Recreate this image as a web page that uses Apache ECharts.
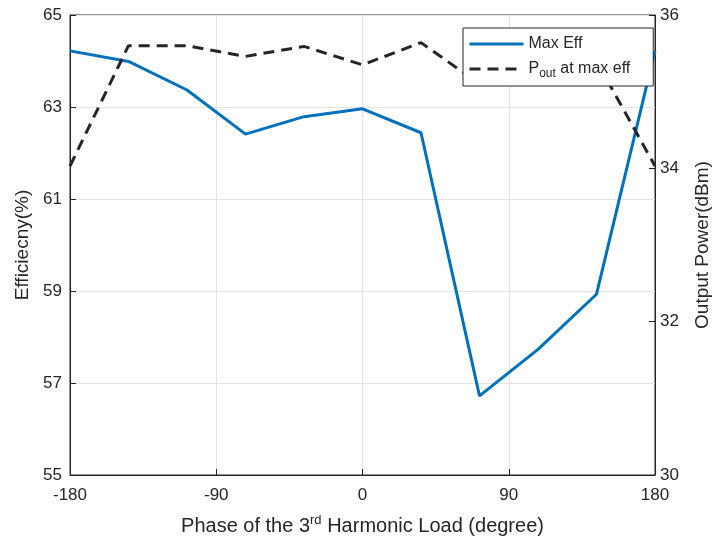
<!DOCTYPE html>
<html>
<head>
<meta charset="utf-8">
<style>
  html, body { margin: 0; padding: 0; background: #fff; }
  #chart { width: 712px; height: 542px; }
</style>
<script src="https://cdn.jsdelivr.net/npm/echarts@6/dist/echarts.min.js"></script>
</head>
<body>
<div id="chart"></div>
<script>
// Phase of the 3rd harmonic load (degrees)
const phases = [-180, -144, -108, -72, -36, 0, 36, 72, 108, 144, 180];
// Maximum drain efficiency (%) at each phase
const maxEff = [64.22, 63.99, 63.37, 62.41, 62.79, 62.96, 62.44, 56.72, 57.73, 58.93, 64.22];
// Output power (dBm) at the max-efficiency point
const poutAtMaxEff = [34.03, 35.60, 35.60, 35.46, 35.59, 35.35, 35.64, 35.10, 35.22, 35.40, 34.03];

// Axis ranges / ticks
const xTicks = [-180, -90, 0, 90, 180];
const effTicks = [55, 57, 59, 61, 63, 65];
const powTicks = [30, 32, 34, 36];

const FONT = '"Liberation Sans", Arial, Helvetica, sans-serif';
const INK = '#262626';
const GRIDC = '#e3e3e3';

const chart = echarts.init(document.getElementById('chart'), null, { renderer: 'canvas' });

const pair = (xs, ys) => xs.map((x, i) => [x, ys[i]]);

chart.setOption({
  backgroundColor: '#ffffff',
  animation: false,
  textStyle: { fontFamily: FONT },
  grid: {
    left: 70, right: 57, top: 15, bottom: 67,
    outerBoundsMode: 'none',
    containLabel: false,
    show: true, borderColor: INK, borderWidth: 1, backgroundColor: 'transparent'
  },
  legend: {
    left: 463, top: 28,
    orient: 'vertical',
    selectedMode: false,
    backgroundColor: '#ffffff',
    borderColor: INK,
    borderWidth: 1,
    borderRadius: 0,
    padding: [8, 23, 6, 5],
    itemWidth: 54,
    itemHeight: 14,
    itemGap: 9,
    itemTextGap: 5,
    z: 10,
    itemStyle: { opacity: 0 },
    lineStyle: { width: 3 },
    textStyle: {
      fontFamily: FONT, fontSize: 16, color: INK,
      rich: {
        n: { fontFamily: FONT, fontSize: 16, color: INK },
        s: { fontFamily: FONT, fontSize: 12, color: INK, verticalAlign: 'bottom', padding: [10, 0, 0, 0] }
      }
    },
    formatter: name => name === 'Pout at max eff' ? '{n|P}{s|out}{n| at max eff}' : name,
    data: ['Max Eff', 'Pout at max eff']
  },
  xAxis: {
    type: 'value',
    min: xTicks[0], max: xTicks[xTicks.length - 1], interval: 90,
    name: '{a|Phase of the 3}{b|rd}{a| Harmonic Load (degree)}',
    nameLocation: 'middle',
    nameGap: 39,
    nameTextStyle: {
      rich: {
        a: { fontFamily: FONT, fontSize: 20, color: INK },
        b: { fontFamily: FONT, fontSize: 13, color: INK, verticalAlign: 'top', padding: [0, 0, 12, 0] }
      }
    },
    axisLine: { show: true, onZero: false, lineStyle: { color: INK, width: 1 } },
    axisTick: { show: true, inside: true, length: 6, lineStyle: { color: INK } },
    axisLabel: { fontFamily: FONT, fontSize: 17, color: INK, margin: 12 },
    splitLine: { show: true, lineStyle: { color: GRIDC, width: 1 } }
  },
  yAxis: [
    {
      type: 'value',
      min: effTicks[0], max: effTicks[effTicks.length - 1], interval: 2,
      name: 'Efficiecny(%)',
      nameLocation: 'middle',
      nameGap: 34,
      nameTextStyle: { fontFamily: FONT, fontSize: 19, color: INK },
      axisLine: { show: true, onZero: false, lineStyle: { color: INK, width: 1 } },
      axisTick: { show: true, inside: true, length: 6, lineStyle: { color: INK } },
      axisLabel: { fontFamily: FONT, fontSize: 17, color: INK, margin: 8 },
      splitLine: { show: true, lineStyle: { color: GRIDC, width: 1 } }
    },
    {
      type: 'value',
      position: 'right',
      min: powTicks[0], max: powTicks[powTicks.length - 1], interval: 2,
      name: 'Output Power(dBm)',
      nameLocation: 'middle',
      nameGap: 38,
      nameTextStyle: { fontFamily: FONT, fontSize: 19, color: INK },
      axisLine: { show: true, onZero: false, lineStyle: { color: INK, width: 1 } },
      axisTick: { show: true, inside: true, length: 6, lineStyle: { color: INK } },
      axisLabel: { fontFamily: FONT, fontSize: 17, color: INK, margin: 5 },
      splitLine: { show: false }
    }
  ],
  series: [
    {
      name: 'Max Eff',
      type: 'line',
      yAxisIndex: 0,
      data: pair(phases, maxEff),
      symbol: 'none',
      color: '#0072BD',
      lineStyle: { color: '#0072BD', width: 3 },
      z: 3
    },
    {
      name: 'Pout at max eff',
      type: 'line',
      yAxisIndex: 1,
      data: pair(phases, poutAtMaxEff),
      symbol: 'none',
      color: INK,
      lineStyle: { color: INK, width: 3, type: [11, 7] },
      z: 4
    }
  ]
});
</script>
</body>
</html>
